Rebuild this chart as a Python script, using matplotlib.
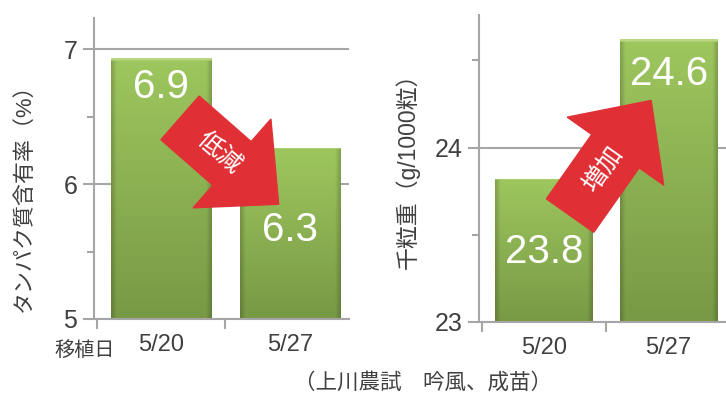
import numpy as np
import matplotlib
matplotlib.use('Agg')
import matplotlib.pyplot as plt
from matplotlib.patches import FancyArrow
from matplotlib.transforms import IdentityTransform

plt.rcParams['font.family'] = ['Liberation Sans', 'Noto Sans CJK JP', 'DejaVu Sans']

# data
dates = ['5/20', '5/27']
protein = [6.93, 6.27]            # タンパク質含有率 (%)
protein_labels = ['6.9', '6.3']
grain_weight = [23.82, 24.62]     # 千粒重 (g/1000粒)
grain_labels = ['23.8', '24.6']

GRAY = '#a6a6a6'
TXT = '#404040'


def green_bars(ax, values, bottom):
    bars = ax.bar(range(len(values)), [v - bottom for v in values], bottom=bottom,
                  width=0.78, color='none', edgecolor='none', zorder=2)
    # vertical light->dark, darker at the side edges
    ny, nx = 200, 60
    t = np.linspace(0, 1, ny)[:, None]
    s = np.linspace(-1, 1, nx)[None, :]
    top = np.array([0.62, 0.78, 0.37])
    bot = np.array([0.47, 0.60, 0.27])
    img = top[None, None, :] * (1 - t[..., None]) + bot[None, None, :] * t[..., None]
    edge = 1 - 0.18 * np.clip((np.abs(s) - 0.9) / 0.1, 0, 1)
    img = img * edge[..., None]
    img[:2] = [0.72, 0.84, 0.50]
    for b in bars:
        x0, y0 = b.get_x(), b.get_y()
        im = ax.imshow(img, extent=[x0, x0 + b.get_width(), y0, y0 + b.get_height()],
                       aspect='auto', zorder=2, interpolation='bilinear')
        im.set_clip_path(b)
    return bars


def style_axes(ax, ylim, major, minor):
    ax.set_xlim(-0.52, 1.46)
    ax.set_ylim(*ylim)
    ax.set_yticks(major)
    ax.set_yticks(minor, minor=True)
    ax.set_xticks([0, 1])
    ax.set_xticklabels(dates)
    ax.set_xticks([-0.5, 0.5], minor=True)
    for s in ['top', 'right']:
        ax.spines[s].set_visible(False)
    for s in ['left', 'bottom']:
        ax.spines[s].set_color(GRAY)
        ax.spines[s].set_linewidth(1.5)
        ax.spines[s].set_zorder(3)
    ax.yaxis.grid(True, color=GRAY, linewidth=1.5, zorder=1)
    ax.set_axisbelow(True)
    ax.tick_params(axis='y', which='major', length=8, width=1.5, color=GRAY,
                   labelsize=18, labelcolor=TXT, pad=4)
    ax.tick_params(axis='y', which='minor', length=5, width=1.5, color=GRAY)
    ax.tick_params(axis='x', which='major', length=0, labelsize=17, labelcolor=TXT, pad=11)
    ax.tick_params(axis='x', which='minor', length=7, width=1.5, color=GRAY)


def block_arrow(fig, ax, p0, p1, text, fontsize=18):
    a = ax.transData.transform(p0)
    b = ax.transData.transform(p1)
    d = b - a
    arr = FancyArrow(a[0], a[1], d[0], d[1], width=58, head_width=118, head_length=62,
                     length_includes_head=True, transform=IdentityTransform(),
                     color='#e03036', zorder=5)
    fig.add_artist(arr)
    ang = np.degrees(np.arctan2(d[1], d[0]))
    mid = a + d * 0.40
    fig.text(mid[0] / fig.bbox.width, mid[1] / fig.bbox.height, text, rotation=ang,
             rotation_mode='anchor', ha='center', va='center', color='white',
             fontsize=fontsize, zorder=6)


fig = plt.figure(figsize=(7.26, 3.98), dpi=100)

# left: protein
ax1 = fig.add_axes([0.1295, 0.1985, 0.3512, 0.7563])
style_axes(ax1, (5, 7.23), [5, 6, 7], [5.5, 6.5])
green_bars(ax1, protein, 5)
for i, (v, lab, off) in enumerate(zip(protein, protein_labels, [-29, -82])):
    ax1.annotate(lab, (i, v), xytext=(0, off), textcoords='offset pixels', ha='center',
                 va='center', color='white', fontsize=29, zorder=7)
ax1.set_ylabel('タンパク質含有率（%）', fontsize=15.8, color=TXT)
ax1.yaxis.set_label_coords(-0.23, 0.42)
fig.text(0.117, 0.12, '移植日', fontsize=14.5, color=TXT, ha='center', va='center')

# right: grain weight
ax2 = fig.add_axes([0.6598, 0.191, 0.3402, 0.7714])
style_axes(ax2, (23, 24.76), [23, 24], [23.5, 24.5])
green_bars(ax2, grain_weight, 23)
for i, (v, lab, off) in enumerate(zip(grain_weight, grain_labels, [-73, -35])):
    ax2.annotate(lab, (i, v), xytext=(0, off), textcoords='offset pixels', ha='center',
                 va='center', color='white', fontsize=29, zorder=7)
ax2.set_ylabel('千粒重（g/1000粒）', fontsize=16.5, color=TXT)
ax2.yaxis.set_label_coords(-0.24, 0.51)

fig.text(0.583, 0.038, '（上川農試　吟風、成苗）', fontsize=15.5, color=TXT,
         ha='center', va='center')

block_arrow(fig, ax1, (0.148, 6.49), (0.914, 5.85), '低減')
block_arrow(fig, ax2, (0.21, 23.61), (0.86, 24.27), '増加')

fig.savefig('out.png', dpi=100)
